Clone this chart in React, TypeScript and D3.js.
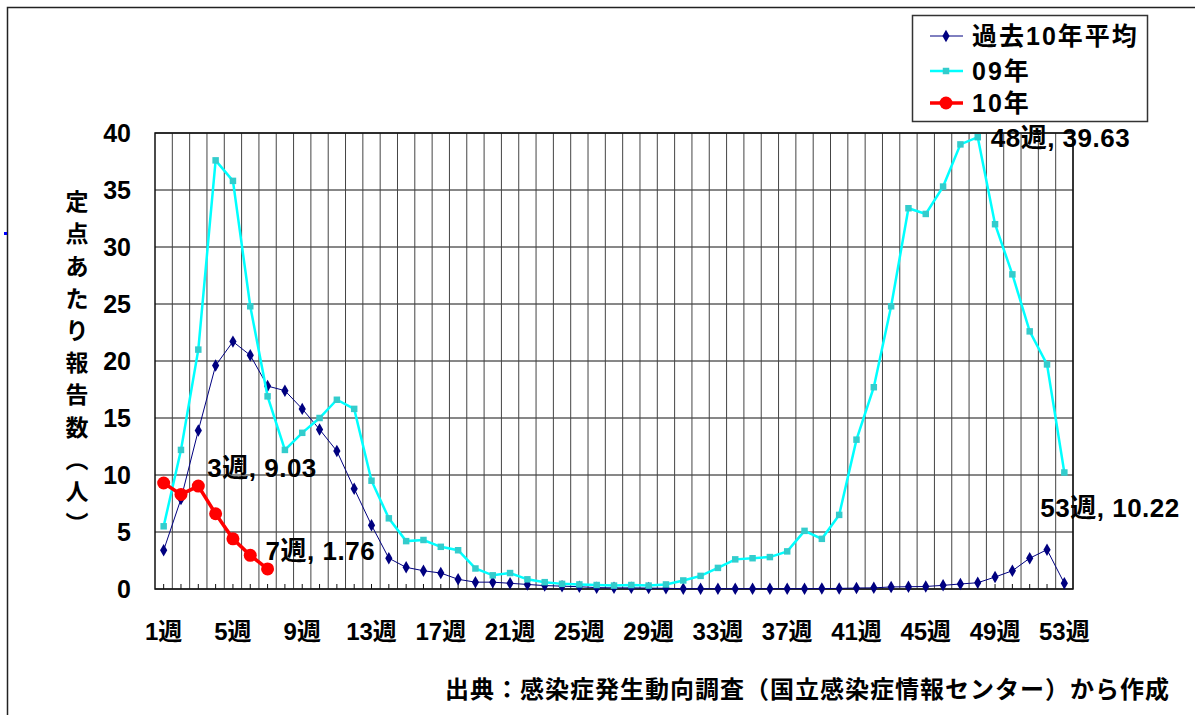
import React from "react";
import * as d3 from "d3";

const weeks: number[] = d3.range(1, 54);
const xTickWeeks = [1, 5, 9, 13, 17, 21, 25, 29, 33, 37, 41, 45, 49, 53];
const yTicks = [0, 5, 10, 15, 20, 25, 30, 35, 40];

const avg10 = [3.4, 7.9, 13.9, 19.6, 21.7, 20.5, 17.8, 17.4, 15.8, 14.0, 12.1, 8.8, 5.6, 2.7, 1.9, 1.6, 1.4, 0.85, 0.6, 0.6, 0.5, 0.4, 0.3, 0.25, 0.2, 0.12, 0.1, 0.1, 0.08, 0.06, 0.03, 0.03, 0.03, 0.03, 0.03, 0.03, 0.03, 0.03, 0.04, 0.05, 0.09, 0.1, 0.18, 0.2, 0.22, 0.32, 0.44, 0.55, 1.05, 1.6, 2.7, 3.45, 0.5];
const y09 = [5.5, 12.2, 21.0, 37.6, 35.8, 24.8, 16.9, 12.2, 13.7, 15.0, 16.6, 15.8, 9.5, 6.2, 4.2, 4.3, 3.7, 3.4, 1.8, 1.2, 1.4, 0.85, 0.6, 0.45, 0.4, 0.35, 0.3, 0.35, 0.3, 0.4, 0.75, 1.15, 1.85, 2.6, 2.7, 2.8, 3.3, 5.1, 4.4, 6.5, 13.1, 17.7, 24.8, 33.4, 32.9, 35.3, 39.0, 39.63, 32.0, 27.6, 22.6, 19.7, 10.22];
const y10 = [9.3, 8.3, 9.03, 6.6, 4.4, 2.95, 1.76];

const seriesNames = ["過去10年平均", "09年", "10年"];
const yTitleChars = ["定", "点", "あ", "た", "り", "報", "告", "数", "︵", "人", "︶"];
const sourceText = "出典：感染症発生動向調査（国立感染症情報センター）から作成";

const annotations = [
  { week: 3, value: 9.03, text: "3週, 9.03", dx: 9, dy: -18 },
  { week: 7, value: 1.76, text: "7週, 1.76", dx: -2, dy: -18 },
  { week: 48, value: 39.63, text: "48週, 39.63", dx: 13, dy: 0 },
  { week: 53, value: 10.22, text: "53週, 10.22", dx: -24, dy: 35 },
];

const FONT = "'Liberation Sans', Arial, 'Noto Sans CJK JP', sans-serif";

export default function App() {
  const W = 1195, H = 715;
  const left = 155, right = 1073, top = 133, bottom = 589;
  const x = d3.scaleBand<number>().domain(weeks).range([left, right]).padding(0);
  const bw = x.bandwidth();
  const cx = (w: number) => (x(w) as number) + bw / 2;
  const y = d3.scaleLinear().domain([0, 40]).range([bottom, top]);

  const line = d3.line<number>().x((_, i) => cx(weeks[i])).y((d) => y(d));

  const diamond = d3.symbol().type(d3.symbolDiamond).size(45)();
  const square = d3.symbol().type(d3.symbolSquare).size(42)();

  return (
    <svg width={W} height={H} style={{ position: "absolute", left: 0, top: 0, background: "#fff" }} fontFamily={FONT}>
      <rect x={0} y={0} width={W} height={H} fill="#fff" />
      {/* outer frame */}
      <path d={`M7.5,${H} V7.5 H${W}`} fill="none" stroke="#222" strokeWidth={1.5} />
      <rect x={4} y={232} width={3} height={3} fill="#0000ff" />

      {/* horizontal grid */}
      {yTicks.map((t) => (
        <line key={"h" + t} x1={left} x2={right} y1={y(t)} y2={y(t)} stroke="#111" strokeWidth={1} />
      ))}
      {/* vertical grid at band boundaries */}
      {weeks.map((w) => (
        <line key={"v" + w} x1={(x(w) as number) + bw} x2={(x(w) as number) + bw} y1={top} y2={bottom} stroke="#444" strokeWidth={1} />
      ))}
      {/* ticks at band centers */}
      {weeks.map((w) => (
        <line key={"t" + w} x1={cx(w)} x2={cx(w)} y1={bottom} y2={bottom - 5} stroke="#111" strokeWidth={1} />
      ))}
      <rect x={left} y={top} width={right - left} height={bottom - top} fill="none" stroke="#111" strokeWidth={1.5} />

      {/* y tick labels */}
      {yTicks.map((t) => (
        <text key={"yl" + t} x={131} y={y(t)} dy="0.36em" textAnchor="end" fontSize={25} fontWeight="bold" fill="#000">
          {t}
        </text>
      ))}
      {/* y title */}
      {yTitleChars.map((c, i) => (
        <text key={"yt" + i} x={77} y={202 + i * 32.2} dy="0.36em" textAnchor="middle" fontSize={23} fontWeight="bold" fill="#000">
          {c}
        </text>
      ))}

      {/* x tick labels */}
      {xTickWeeks.map((w) => (
        <text key={"xl" + w} x={cx(w)} y={631} dy="0.36em" textAnchor="middle" fontSize={24} fontWeight="bold" fill="#000">
          {w + "週"}
        </text>
      ))}

      {/* series: past 10-year avg */}
      <path d={line(avg10) || ""} fill="none" stroke="#000080" strokeWidth={1} />
      {avg10.map((v, i) => (
        <path key={"a" + i} d={diamond || ""} transform={`translate(${cx(weeks[i])},${y(v)})`} fill="#000080" />
      ))}
      {/* 09 */}
      <path d={line(y09) || ""} fill="none" stroke="#00FFFF" strokeWidth={2.5} />
      {y09.map((v, i) => (
        <path key={"b" + i} d={square || ""} transform={`translate(${cx(weeks[i])},${y(v)})`} fill="#33CCCC" />
      ))}
      {/* 10 */}
      <path d={line(y10) || ""} fill="none" stroke="#FF0000" strokeWidth={3.5} />
      {y10.map((v, i) => (
        <circle key={"c" + i} cx={cx(weeks[i])} cy={y(v)} r={6.5} fill="#FF0000" />
      ))}

      {/* annotations */}
      {annotations.map((a) => (
        <text key={a.text} x={cx(a.week) + a.dx} y={y(a.value) + a.dy} dy="0.36em" fontSize={26} fontWeight="bold" letterSpacing={0.5} fill="#000">
          {a.text}
        </text>
      ))}

      {/* legend */}
      <rect x={912.5} y={15.5} width={235} height={106} fill="#fff" stroke="#333" strokeWidth={1.5} />
      {seriesNames.map((n, i) => {
        const ly = [36, 71, 103][i];
        return (
          <g key={n}>
            <line x1={930} x2={963} y1={ly} y2={ly} stroke={["#000080", "#00FFFF", "#FF0000"][i]} strokeWidth={[1, 2.5, 3.5][i]} />
            {i === 0 && <path d={diamond || ""} transform={`translate(946,${ly})`} fill="#000080" />}
            {i === 1 && <path d={square || ""} transform={`translate(946,${ly})`} fill="#33CCCC" />}
            {i === 2 && <circle cx={946} cy={ly} r={6.5} fill="#FF0000" />}
            <text x={972} y={ly} dy="0.36em" fontSize={25} fontWeight="bold" letterSpacing={2} fill="#000">
              {n}
            </text>
          </g>
        );
      })}

      {/* source */}
      <text x={1170} y={689} dy="0.36em" textAnchor="end" fontSize={24} fontWeight="bold" letterSpacing={1} fill="#000">
        {sourceText}
      </text>
    </svg>
  );
}
